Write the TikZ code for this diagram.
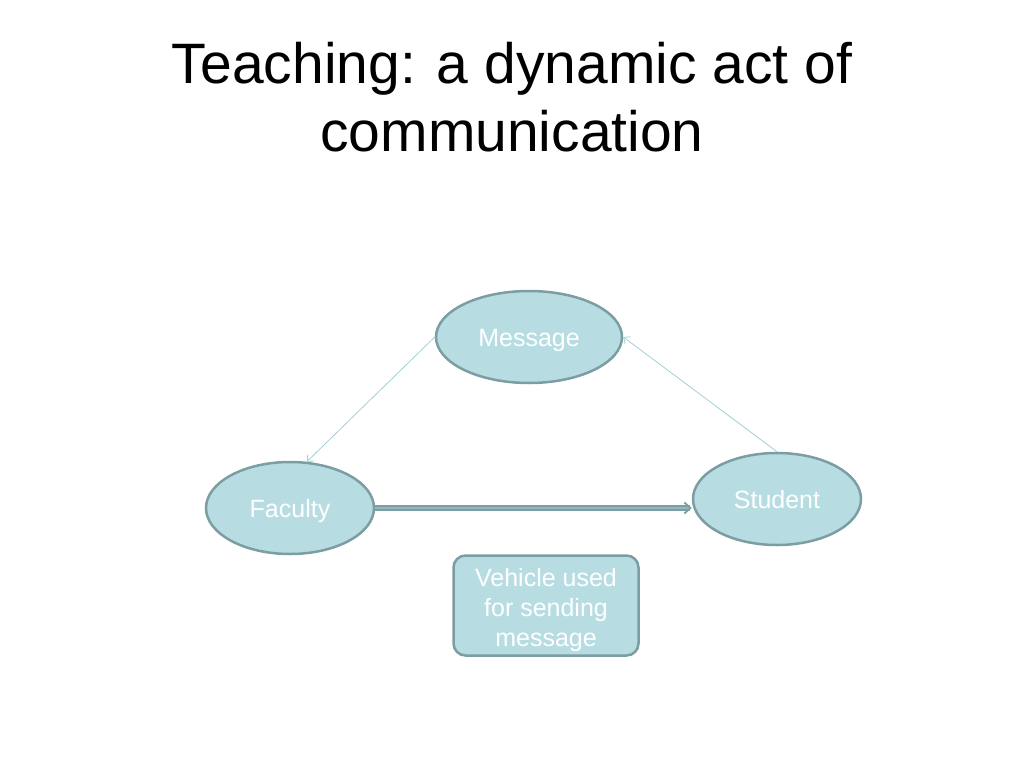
\documentclass[tikz,border=0pt]{standalone}
\usepackage{fontspec}
\setmainfont{Liberation Sans}
\usetikzlibrary{shapes.geometric,arrows.meta}

\definecolor{bubblefill}{RGB}{183,221,227}
\definecolor{bubbleline}{RGB}{124,158,163}
\definecolor{thinline}{RGB}{160,208,215}

\begin{document}
\begin{tikzpicture}[x=1pt, y=-1pt,
    bubble/.style={ellipse, fill=bubblefill, draw=bubbleline, line width=2.5pt,
      text=white, font=\fontsize{25}{30}\selectfont, inner sep=0pt,
      text height=18pt, text depth=0pt},
    vehiclebox/.style={rectangle, rounded corners=12pt, fill=bubblefill, draw=bubbleline,
      line width=2.5pt, text=white, font=\fontsize{25}{30}\selectfont, align=center,
      minimum width=185, minimum height=100, inner sep=0pt,
      text height=86pt, text depth=5pt},
    flow/.style={draw=thinline, line width=0.8pt, -{Straight Barb[length=5pt,width=9pt]}}]

    \useasboundingbox (0,0) rectangle (1024,768);

    % Title
    \node[align=center, inner sep=0pt, font=\fontsize{57}{68}\selectfont] (title) at (512,97)
      {Teaching: a dynamic act of\\communication};

    % Ellipses
    \node[bubble, minimum width=186, minimum height=92] (msg) at (529,337) {Message};
    \node[bubble, minimum width=168, minimum height=92] (fac) at (290,508) {Faculty};
    \node[bubble, minimum width=168, minimum height=92] (stu) at (777,499) {Student};

    % Vehicle
    \node[vehiclebox] (vehicle) at (546,605.5) {Vehicle used\\for sending\\message};

    % Arrows
    \draw[flow] (msg.west) -- (fac.70);
    \draw[flow] (stu.north) -- (msg.east);
    \draw[draw=bubbleline, double=bubbleline!60!bubblefill, line width=1.8pt, double distance=2.6pt,
      -{Straight Barb[length=6pt,width=11pt]}] (fac.east) -- (fac.east -| stu.west);
  \end{tikzpicture}
\end{document}
